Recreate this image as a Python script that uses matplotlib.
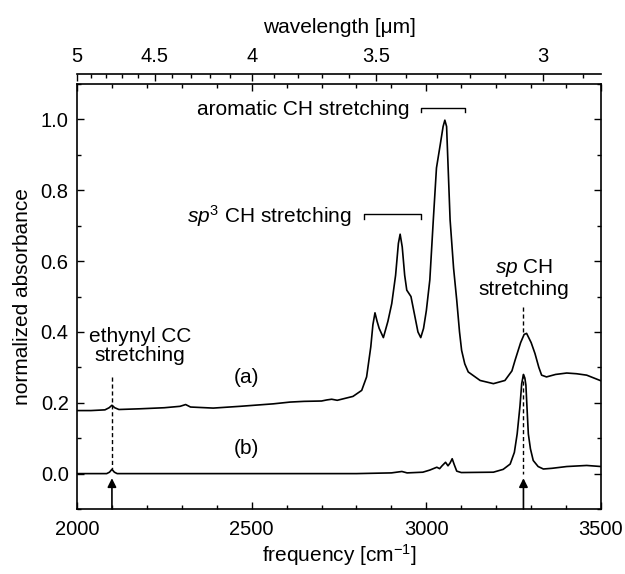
import numpy as np
import matplotlib
matplotlib.use('Agg')
import matplotlib.pyplot as plt
from matplotlib.ticker import MultipleLocator, FixedLocator

plt.rcParams['font.family'] = ['Liberation Sans', 'DejaVu Sans']
plt.rcParams['mathtext.fontset'] = 'custom'
plt.rcParams['mathtext.rm'] = 'Liberation Sans'
plt.rcParams['mathtext.it'] = 'Liberation Sans:italic'
plt.rcParams['font.size'] = 15

# spectrum (a)
freq_a = [2000, 2040, 2080, 2092, 2100, 2108, 2120, 2180, 2250, 2295, 2311, 2325,
          2390, 2467, 2562, 2610, 2650, 2700, 2715, 2729, 2745, 2790, 2815, 2829,
          2841, 2847, 2853, 2859, 2865, 2877, 2890, 2901, 2912, 2920, 2925, 2931,
          2938, 2944, 2956, 2966, 2976, 2984, 2992, 3000, 3010, 3020, 3029, 3040,
          3048, 3053, 3058, 3068, 3078, 3087, 3095, 3101, 3110, 3120, 3154, 3192,
          3225, 3245, 3254, 3270, 3280, 3287, 3300, 3311, 3322, 3330, 3344, 3370,
          3402, 3430, 3459, 3500]
abs_a = [0.178, 0.178, 0.180, 0.186, 0.193, 0.186, 0.181, 0.183, 0.186, 0.190, 0.195, 0.188,
         0.185, 0.190, 0.197, 0.202, 0.204, 0.205, 0.208, 0.210, 0.207, 0.218, 0.235, 0.273,
         0.358, 0.420, 0.454, 0.430, 0.410, 0.384, 0.430, 0.480, 0.560, 0.650, 0.676, 0.640,
         0.560, 0.518, 0.500, 0.450, 0.400, 0.384, 0.410, 0.460, 0.547, 0.717, 0.863, 0.930,
         0.980, 0.998, 0.980, 0.717, 0.580, 0.490, 0.400, 0.348, 0.310, 0.287, 0.263, 0.254,
         0.263, 0.290, 0.320, 0.370, 0.393, 0.396, 0.370, 0.339, 0.300, 0.278, 0.273, 0.280,
         0.284, 0.282, 0.278, 0.262]

# spectrum (b)
freq_b = [2000, 2085, 2093, 2100, 2107, 2115, 2500, 2800, 2900, 2930, 2945, 2990,
          3010, 3030, 3038, 3045, 3055, 3062, 3068, 3074, 3080, 3087, 3100, 3192,
          3220, 3240, 3252, 3260, 3268, 3273, 3278, 3282, 3285, 3289, 3292, 3298,
          3306, 3320, 3335, 3360, 3402, 3459, 3500]
abs_b = [0.0, 0.0, 0.004, 0.012, 0.004, 0.0, 0.0, 0.0, 0.002, 0.006, 0.002, 0.004,
         0.010, 0.018, 0.014, 0.022, 0.032, 0.022, 0.030, 0.042, 0.025, 0.007, 0.003, 0.004,
         0.012, 0.027, 0.060, 0.112, 0.190, 0.254, 0.280, 0.270, 0.250, 0.170, 0.112, 0.070,
         0.037, 0.020, 0.013, 0.015, 0.020, 0.023, 0.020]

# band markers
ethynyl_pos = 2100
sp_pos = 3278
sp3_range = [2821, 2984]
arom_range = [2984, 3111]

wl_major = [5, 4.5, 4, 3.5, 3]
wl_minor = np.round(np.arange(2.9, 5.01, 0.1), 1)

fig = plt.figure(figsize=(6.25, 5.74), dpi=100)
ax = fig.add_axes([0.1232, 0.1132, 0.8384, 0.7404])

ax.plot(freq_a, abs_a, color='k', lw=1.2)
ax.plot(freq_b, abs_b, color='k', lw=1.2)

ax.set_xlim(2000, 3500)
ax.set_ylim(-0.1, 1.1)
ax.xaxis.set_major_locator(MultipleLocator(500))
ax.xaxis.set_minor_locator(MultipleLocator(100))
ax.yaxis.set_major_locator(MultipleLocator(0.2))
ax.yaxis.set_minor_locator(MultipleLocator(0.1))
ax.yaxis.set_major_formatter(plt.FormatStrFormatter('%.1f'))
ax.tick_params(which='both', direction='in', top=True, right=True, width=1,
               labelsize=14.5)
ax.tick_params(which='major', length=5, pad=6)
ax.tick_params(axis='x', which='major', pad=8)
ax.tick_params(which='minor', length=3)
for s in ax.spines.values():
    s.set_linewidth(1.2)

ax.set_xlabel('frequency [cm$^{\\mathregular{-1}}$]', labelpad=2)
ax.set_ylabel('normalized absorbance', labelpad=6)

# wavelength axis on top, slightly detached
sec = ax.secondary_xaxis(1.0236, functions=(lambda x: 1e4 / x, lambda x: 1e4 / x))
sec.xaxis.set_major_locator(FixedLocator(wl_major))
sec.xaxis.set_minor_locator(FixedLocator(wl_minor))
sec.xaxis.set_major_formatter(plt.FuncFormatter(lambda v, p: '%g' % v))
sec.tick_params(which='both', direction='in', width=1, labelsize=14.5)
sec.tick_params(which='major', length=5, pad=6)
sec.tick_params(which='minor', length=3)
sec.spines['top'].set_linewidth(1.2)
sec.set_xlabel('wavelength [μm]', labelpad=10)

# brackets
ax.plot([sp3_range[0], sp3_range[0], sp3_range[1], sp3_range[1]],
        [0.720, 0.733, 0.733, 0.720], color='k', lw=1)
ax.plot([arom_range[0], arom_range[0], arom_range[1], arom_range[1]],
        [1.020, 1.033, 1.033, 1.020], color='k', lw=1)
ax.text(sp3_range[0] - 34, 0.728, '$\\it{sp}^{\\mathregular{3}}$ CH stretching',
        ha='right', va='center')
ax.text(arom_range[0] - 33, 1.028, 'aromatic CH stretching', ha='right', va='center')

ax.text(3280, 0.553, '$\\it{sp}$ CH\nstretching', ha='center', va='center',
        linespacing=1.05)
ax.text(2180, 0.36, 'ethynyl CC\nstretching', ha='center', va='center',
        linespacing=1.05)
ax.text(2485, 0.27, '(a)', ha='center', va='center')
ax.text(2485, 0.07, '(b)', ha='center', va='center')

# dashed guide lines
ax.plot([ethynyl_pos, ethynyl_pos], [0.272, 0.012], color='k', lw=1, ls=(0, (3, 2)))
ax.plot([sp_pos, sp_pos], [0.47, 0.40], color='k', lw=1, ls=(0, (3, 2)))
ax.plot([sp_pos, sp_pos], [0.28, 0.0], color='k', lw=1, ls=(0, (3, 2)))

# arrows from the bottom axis
for p in [ethynyl_pos, sp_pos]:
    ax.annotate('', xy=(p, -0.013), xytext=(p, -0.1),
                arrowprops=dict(arrowstyle='-|>', color='k', lw=1.2, mutation_scale=13,
                                shrinkA=0, shrinkB=0))

fig.savefig('out.png', dpi=100)
